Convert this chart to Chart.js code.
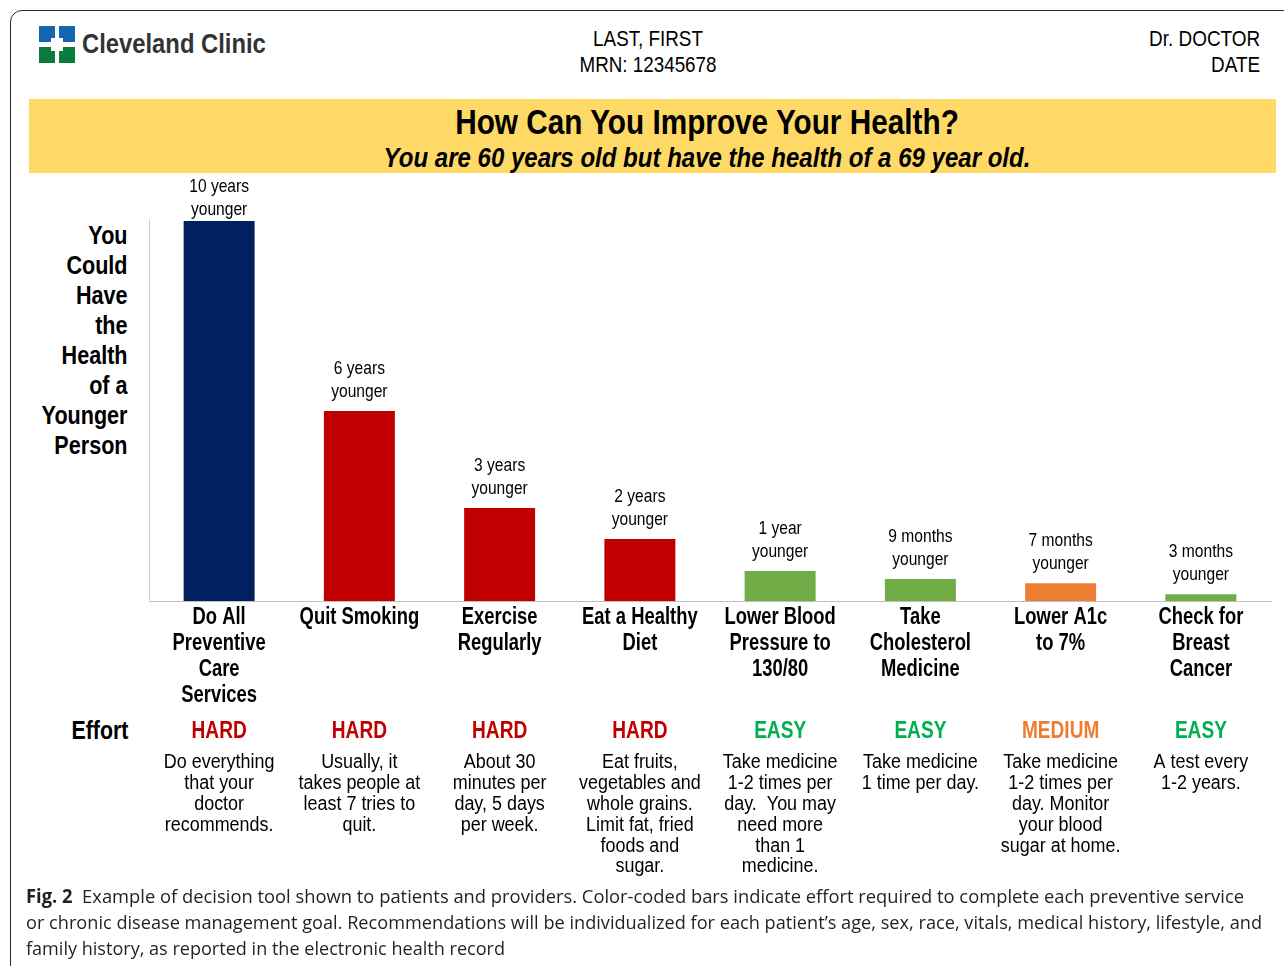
<!DOCTYPE html>
<html><head><meta charset="utf-8">
<script src="https://cdn.jsdelivr.net/npm/chart.js@4.4.0/dist/chart.umd.min.js"></script>
<style>
body{margin:0;width:1284px;height:966px;overflow:hidden;background:#fff;position:relative;
 font-family:'Liberation Sans',Arial,sans-serif;color:#000}
.abs{position:absolute;white-space:nowrap}
#frame{position:absolute;left:10px;top:10px;width:1320px;height:1000px;border:1.5px solid #2b2b2b;border-radius:12px;box-sizing:border-box}
#banner{position:absolute;left:29px;top:99px;width:1247px;height:74px;background:#FFD966}
#c{position:absolute;left:0;top:0}
.cap{position:absolute;left:26px;font-family:'Open Sans','Noto Sans',sans-serif;font-size:19px;line-height:26px;color:#231f20;white-space:nowrap;transform-origin:0 50%}
</style></head>
<body>
<div id="frame"></div>
<svg class="abs" style="left:39px;top:26px" width="36" height="37" viewBox="0 0 36 37">
 <path fill="#1565b0" d="M0 0H16V12H12V16H0Z"/>
 <path fill="#1565b0" d="M20 0H36V16H24V12H20Z"/>
 <path fill="#0b7a3e" d="M0 21H12V25H16V37H0Z"/>
 <path fill="#0b7a3e" d="M24 21H36V37H20V25H24Z"/>
</svg>
<div class="abs" style="left:82px;top:27px;font-size:28px;line-height:34px;font-weight:bold;color:#333;transform:scaleX(0.85);transform-origin:0 50%">Cleveland Clinic</div>
<div class="abs" style="left:548px;width:200px;top:26px;font-size:22px;line-height:26px;text-align:center;transform:scaleX(0.855);transform-origin:50% 50%">LAST, FIRST<br>MRN: 12345678</div>
<div class="abs" style="right:24px;top:26px;font-size:22px;line-height:26px;text-align:right;transform:scaleX(0.86);transform-origin:100% 50%">Dr. DOCTOR<br>DATE</div>
<div id="banner"></div>
<div class="abs" style="left:307px;width:800px;top:101px;font-size:35px;line-height:42px;font-weight:bold;text-align:center;transform:scaleX(0.85);transform-origin:50% 50%">How Can You Improve Your Health?</div>
<div class="abs" style="left:307px;width:800px;top:142px;font-size:27px;line-height:32px;font-weight:bold;font-style:italic;text-align:center;transform:scaleX(0.89);transform-origin:50% 50%">You are 60 years old but have the health of a 69 year old.</div>
<div class="abs" style="right:1156px;top:220px;font-size:26px;line-height:30px;font-weight:bold;text-align:right;transform:scaleX(0.83);transform-origin:100% 50%">You<br>Could<br>Have<br>the<br>Health<br>of a<br>Younger<br>Person</div>
<div class="abs" style="right:1156px;top:715px;font-size:26px;line-height:30px;font-weight:bold;text-align:right;transform:scaleX(0.82);transform-origin:100% 50%">Effort</div>
<canvas id="c" width="1284" height="966"></canvas>
<div class="cap" id="cap1" style="top:883px"><b>Fig. 2</b>&nbsp; Example of decision tool shown to patients and providers. Color-coded bars indicate effort required to complete each preventive service</div>
<div class="cap" id="cap2" style="top:909px">or chronic disease management goal. Recommendations will be individualized for each patient’s age, sex, race, vitals, medical history, lifestyle, and</div>
<div class="cap" id="cap3" style="top:935px">family history, as reported in the electronic health record</div>
<script>
const categories = [["Do All","Preventive","Care","Services"],["Quit Smoking"],["Exercise","Regularly"],["Eat a Healthy","Diet"],["Lower Blood","Pressure to","130/80"],["Take","Cholesterol","Medicine"],["Lower A1c","to 7%"],["Check for","Breast","Cancer"]];
const values = [10, 5, 2.45, 1.63, 0.79, 0.58, 0.47, 0.18];
const valueLabels = [["10 years","younger"],["6 years","younger"],["3 years","younger"],["2 years","younger"],["1 year","younger"],["9 months","younger"],["7 months","younger"],["3 months","younger"]];
const effort = ["HARD","HARD","HARD","HARD","EASY","EASY","MEDIUM","EASY"];
const descriptions = [
 ["Do everything","that your","doctor","recommends."],
 ["Usually, it","takes people at","least 7 tries to","quit."],
 ["About 30","minutes per","day, 5 days","per week."],
 ["Eat fruits,","vegetables and","whole grains.","Limit fat, fried","foods and","sugar."],
 ["Take medicine","1-2 times per","day.  You may","need more","than 1","medicine."],
 ["Take medicine","1 time per day."],
 ["Take medicine","1-2 times per","day. Monitor","your blood","sugar at home."],
 ["A test every","1-2 years."]
];
const barColors = ["#002060","#C00000","#C00000","#C00000","#70AD47","#70AD47","#ED7D31","#70AD47"];
const effortColors = {HARD:"#C00000", EASY:"#00B050", MEDIUM:"#ED7D31"};

const FONT = "'Liberation Sans',Arial,sans-serif";
Chart.defaults.font.family = FONT;

function narrowText(ctx, text, x, y, sx){
  ctx.save(); ctx.translate(x, y); ctx.scale(sx, 1); ctx.fillText(text, 0, 0); ctx.restore();
}

const annot = {
  id:'annot',
  afterDraw(chart){
    const ctx = chart.ctx, ca = chart.chartArea, x = chart.scales.x;
    const bars = chart.getDatasetMeta(0).data;
    ctx.save();
    ctx.textAlign = 'center'; ctx.textBaseline = 'middle';
    ctx.fillStyle = '#000';
    // value labels above bars
    ctx.font = "19px " + FONT;
    bars.forEach((b,i)=>{
      const y2 = Math.max(b.y - 19, ca.top - 9);
      narrowText(ctx, valueLabels[i][0], b.x, y2 - 23, 0.82);
      narrowText(ctx, valueLabels[i][1], b.x, y2, 0.82);
    });
    // category labels (from chart labels) under axis
    ctx.font = "bold 23px " + FONT;
    chart.data.labels.forEach((lines,i)=>{
      lines.forEach((t,k)=> narrowText(ctx, t, x.getPixelForValue(i), ca.bottom + 17 + k*26, 0.8));
    });
    // effort row
    ctx.font = "bold 23px " + FONT;
    effort.forEach((e,i)=>{
      ctx.fillStyle = effortColors[e];
      narrowText(ctx, e, x.getPixelForValue(i), 732, 0.83);
    });
    // descriptions
    ctx.fillStyle = '#000';
    ctx.font = "19.5px " + FONT;
    descriptions.forEach((lines,i)=>{
      lines.forEach((t,k)=> narrowText(ctx, t, x.getPixelForValue(i), 763 + k*20.8, 0.92));
    });
    ctx.restore();
  }
};

new Chart(document.getElementById('c'), {
  type:'bar',
  data:{ labels: categories, datasets:[{ data: values, backgroundColor: barColors, borderWidth:0,
         categoryPercentage:1, barPercentage:0.506 }]},
  options:{
    responsive:false, animation:false,
    layout:{ padding:{ left:149, top:219, right:13, bottom:0 } },
    plugins:{ legend:{display:false}, tooltip:{enabled:false} },
    scales:{
      x:{ grid:{display:false, drawTicks:false}, border:{display:true, color:'#bfbfbf', width:1},
          ticks:{ display:false },
          afterFit:(s)=>{ s.height = 365; } },
      y:{ min:0, max:10.05, grid:{display:false, drawTicks:false}, border:{display:true, color:'#d0d0d0', width:1},
          ticks:{display:false}, afterFit:(s)=>{ s.width = 0; } }
    }
  },
  plugins:[annot]
});

[["cap1",1218],["cap2",1236],["cap3",479]].forEach(([id,w])=>{
  const el = document.getElementById(id);
  const m = el.getBoundingClientRect().width;
  el.style.transform = 'scaleX(' + (w/m) + ')';
});
</script>
</body></html>
